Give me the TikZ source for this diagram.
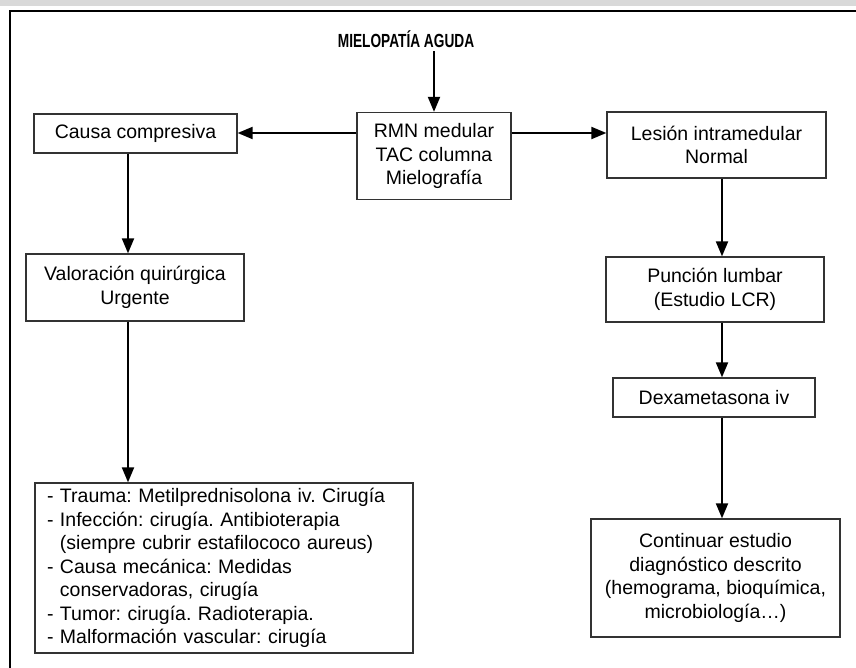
\documentclass[tikz,border=0pt]{standalone}
\usepackage{fontspec}
\usepackage{graphicx}
\setmainfont{Liberation Sans}
\usetikzlibrary{arrows.meta}
\definecolor{barra}{HTML}{D9D9D9}
\frenchspacing
\begin{document}
\begin{tikzpicture}[x=1pt,y=-1pt,
        caja/.style={draw=black!80,line width=1.3pt,rectangle,align=center,inner sep=0pt,
          font=\fontsize{19.5}{23.5}\selectfont},
        flecha/.style={line width=2pt,-{Triangle[length=15pt,width=12pt]}}]
  \useasboundingbox (0,0) rectangle (856,668);
  % marco
  \fill[barra] (0,0) rectangle (856,6);
  \draw[line width=2pt] (856,11) -- (10,11) -- (10,668);
  \coordinate (colizq) at (128,0);
  \coordinate (colder) at (722,0);
  \coordinate (fila) at (0,133);
  \node[font=\bfseries\fontsize{19}{22}\selectfont] (titulo) at (406,39)
    {\scalebox{0.72}[1]{MIELOPATÍA AGUDA}};
  \node[caja,minimum width=154,minimum height=87] (rmn) at (434,156)
    {RMN medular\\TAC columna\\Mielografía};
  \node[caja,minimum width=203,minimum height=39] (causa) at (135.5,133.5) {Causa compresiva};
  \node[caja,minimum width=219,minimum height=66] (lesion) at (716.5,145)
    {Lesión intramedular\\Normal};
  \node[caja,minimum width=218,minimum height=67] (valoracion) at (135,287.5)
    {Valoración quirúrgica\\Urgente};
  \node[caja,align=left,text width=354,inner xsep=12,minimum height=170] (lista) at (224,568)
    {- Trauma: Metilprednisolona iv. Cirugía\\
     - Infección: cirugía. Antibioterapia\\
     \hphantom{- }(siempre cubrir estafilococo aureus)\\
     - Causa mecánica: Medidas\\
     \hphantom{- }conservadoras, cirugía\\
     - Tumor: cirugía. Radioterapia.\\
     - Malformación vascular: cirugía};
  \node[caja,minimum width=218,minimum height=65] (puncion) at (715,289.5)
    {Punción lumbar\\(Estudio LCR)};
  \node[caja,minimum width=202,minimum height=39] (dexa) at (714,397.5) {Dexametasona iv};
  \node[caja,minimum width=249,minimum height=118] (continuar) at (715.5,578)
    {Continuar estudio\\diagnóstico descrito\\(hemograma, bioquímica,\\microbiología\dots)};
  % conectores
  \draw[flecha] (titulo.south -| rmn.north) -- (rmn.north);
  \draw[flecha] (rmn.west |- fila) -- (causa.east |- fila);
  \draw[flecha] (rmn.east |- fila) -- (lesion.west |- fila);
  \draw[flecha] (causa.south -| colizq) -- (valoracion.north -| colizq);
  \draw[flecha] (valoracion.south -| colizq) -- (lista.north -| colizq);
  \draw[flecha] (lesion.south -| colder) -- (puncion.north -| colder);
  \draw[flecha] (puncion.south -| colder) -- (dexa.north -| colder);
  \draw[flecha] (dexa.south -| colder) -- (continuar.north -| colder);
\end{tikzpicture}
\end{document}
